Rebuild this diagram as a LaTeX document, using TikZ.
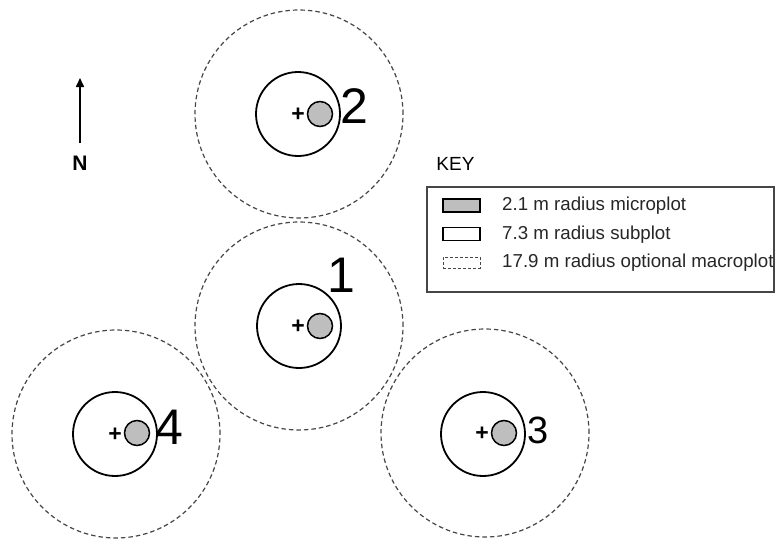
\documentclass[tikz,border=0pt]{standalone}
\usepackage{fontspec}
\setmainfont{Liberation Sans}
\usetikzlibrary{arrows.meta}
\definecolor{microgray}{RGB}{190,190,190}
\definecolor{edgegray}{RGB}{70,70,70}
\begin{document}
\begin{tikzpicture}[x=1pt,y=-1pt,
  macro/.style={circle,draw=edgegray,dash pattern=on 4.5pt off 3pt,line width=1.2pt,minimum size=208pt,inner sep=0pt},
  sub/.style={circle,draw=black,line width=1.8pt,minimum size=84pt,inner sep=0pt},
  micro/.style={circle,draw=black,fill=microgray,line width=1.5pt,minimum size=25pt,inner sep=0pt},
  ctr/.style={inner sep=0pt,font=\fontsize{23}{23}\selectfont\bfseries},
  plotnum/.style={inner sep=0pt,font=\fontsize{50}{50}\selectfont},
  keytext/.style={anchor=west,inner sep=0pt,font=\fontsize{18.7}{18.7}\selectfont,text=black!85},
  swatch/.style={rectangle,inner sep=0pt,minimum width=37pt,minimum height=13pt},
]
\useasboundingbox (0,0) rectangle (775,538);

% plot 1 (centre)
\node[macro] (m1) at (299,326) {};
\node[sub] (s1) at (299,326) {};
\node[micro] (u1) at (320,326) {};
\node[ctr] (c1) at (298,327) {+};
\node[plotnum] (n1) at (341,275) {1};

% plot 2 (north)
\node[macro] (m2) at (299,114) {};
\node[sub] (s2) at (298,114) {};
\node[micro] (u2) at (320,114) {};
\node[ctr] (c2) at (298,115) {+};
\node[plotnum] (n2) at (354,106) {2};

% plot 3 (south-east)
\node[macro] (m3) at (485,433) {};
\node[sub] (s3) at (483,434) {};
\node[micro] (u3) at (504,433) {};
\node[ctr] (c3) at (482,434) {+};
\node[plotnum,font=\fontsize{38}{38}\selectfont] (n3) at (538,430) {3};

% plot 4 (south-west)
\node[macro] (m4) at (116,434) {};
\node[sub] (s4) at (115,434) {};
\node[micro] (u4) at (137,433) {};
\node[ctr] (c4) at (115,435) {+};
\node[plotnum] (n4) at (169,427) {4};

% north arrow
\node[inner sep=0pt,font=\fontsize{21}{21}\selectfont\bfseries] (north) at (80,163) {N};
\coordinate (ntail) at (80,143);
\coordinate (ntip) at (80,78);
\draw[line width=1.6pt,-{Triangle[width=8pt,length=9pt]}] (ntail) -- (ntip);

% key
\node[inner sep=0pt,font=\fontsize{19}{19}\selectfont] (keytitle) at (455.5,164) {KEY};
\node[rectangle,draw=edgegray,line width=1.3pt,minimum width=347pt,minimum height=105pt,inner sep=0pt] (keybox) at (600.5,239.5) {};
\node[swatch,draw=black,line width=1.8pt,fill=microgray] (k1) at (461.5,205.5) {};
\node[swatch,draw=black,line width=1.8pt] (k2) at (461.5,234) {};
\node[swatch,draw=edgegray,line width=0.9pt,dash pattern=on 3pt off 2pt,minimum height=11pt] (k3) at (461.5,262.5) {};
\node[keytext] (t1) at (502,206) {2.1 m radius microplot};
\node[keytext] (t2) at (502,235) {7.3 m radius subplot};
\node[keytext] (t3) at (502,263) {17.9 m radius optional macroplot};
\end{tikzpicture}
\end{document}
